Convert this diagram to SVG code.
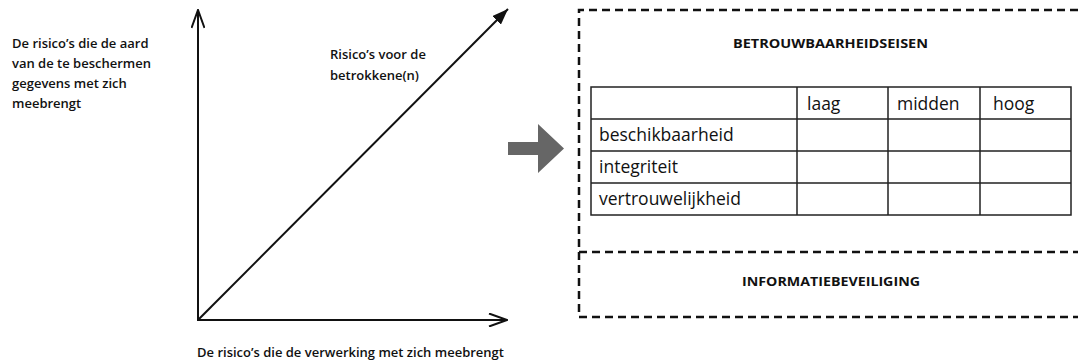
<svg xmlns="http://www.w3.org/2000/svg" width="1078" height="361" viewBox="0 0 1078 361">
<style>
.lbl{font-family:"Open Sans","Liberation Sans",sans-serif;font-weight:600;font-size:13px;fill:#111}
.hd{font-family:"Open Sans","Liberation Sans",sans-serif;font-weight:700;font-size:13px;fill:#111}
.cell{font-family:"Open Sans","Liberation Sans",sans-serif;font-weight:400;font-size:17.5px;fill:#111}
.axis{stroke:#111;stroke-width:2;fill:none}
.dash{stroke:#111;stroke-width:2.5;fill:none;stroke-dasharray:8 5}
.grid{stroke:#222;stroke-width:1.5;fill:none}
</style>
<defs>
<marker id="open" viewBox="0 0 20 14" refX="19" refY="7" markerWidth="20" markerHeight="14" markerUnits="userSpaceOnUse" orient="auto">
<path d="M1,0.5 L19,7 L1,13.5" fill="none" stroke="#111" stroke-width="2"/>
</marker>
<marker id="solid" viewBox="0 0 16 12" refX="16" refY="6" markerWidth="16" markerHeight="12" markerUnits="userSpaceOnUse" orient="auto">
<path d="M0,0 L16,6 L0,12 Z" fill="#111"/>
</marker>
</defs>
<g id="connectors">
<line class="axis" x1="198" y1="321" x2="198" y2="10" marker-end="url(#open)"/>
<line class="axis" x1="197" y1="320" x2="507" y2="320" marker-end="url(#open)"/>
<line class="axis" x1="198" y1="320" x2="508" y2="9" marker-end="url(#solid)"/>
</g>
<g id="label-y">
<text class="lbl" x="12" y="48">De risico’s die de aard</text>
<text class="lbl" x="12" y="68">van de te beschermen</text>
<text class="lbl" x="12" y="88">gegevens met zich</text>
<text class="lbl" x="12" y="108">meebrengt</text>
</g>
<g id="label-diag">
<text class="lbl" x="330" y="59">Risico’s voor de</text>
<text class="lbl" x="330" y="80">betrokkene(n)</text>
</g>
<g id="label-x">
<text class="lbl" x="197" y="357">De risico’s die de verwerking met zich meebrengt</text>
</g>
<g id="big-arrow">
<path d="M508,142 L538,142 L538,124 L564,148.5 L538,173 L538,155 L508,155 Z" fill="#666"/>
</g>
<g id="box">
<path class="dash" d="M1078,10 L579,10 L579,317 L1078,317"/>
<path class="dash" d="M579,252 L1078,252"/>
<text class="hd" x="733" y="48" textLength="195" lengthAdjust="spacingAndGlyphs">BETROUWBAARHEIDSEISEN</text>
<text class="hd" x="742" y="286" textLength="178" lengthAdjust="spacingAndGlyphs">INFORMATIEBEVEILIGING</text>
</g>
<g id="table">
<rect class="grid" x="591" y="87" width="480" height="128"/>
<path class="grid" d="M591,119 H1071 M591,151 H1071 M591,183 H1071 M797,87 V215 M888,87 V215 M980,87 V215"/>
<text class="cell" x="807" y="110">laag</text>
<text class="cell" x="897" y="110">midden</text>
<text class="cell" x="993" y="110">hoog</text>
<text class="cell" x="599" y="141">beschikbaarheid</text>
<text class="cell" x="599" y="173">integriteit</text>
<text class="cell" x="599" y="205">vertrouwelijkheid</text>
</g>
</svg>
